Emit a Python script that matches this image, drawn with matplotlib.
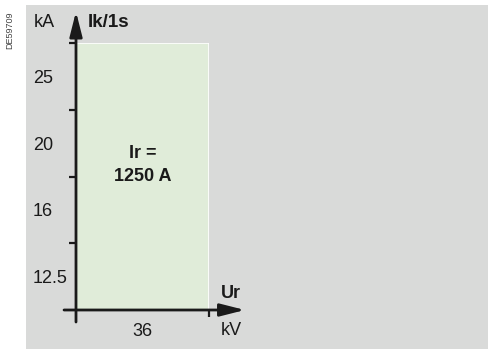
import numpy as np
import matplotlib.pyplot as plt
from matplotlib.patches import Rectangle

plt.rcParams['font.family'] = ['Liberation Sans', 'DejaVu Sans']

# data
voltage = ["36"]                        # Ur, kV
currents = ["12.5", "16", "20", "25"]   # Ik/1s, kA
rated_current = "1250 A"
x_max = len(voltage)      # green zone covers voltage band(s)
y_max = len(currents)     # ... up to the last current band

txt = '#1a1a1a'
grey = '#d9dad9'
green = '#e0ecd9'
fs = 13

fig = plt.figure(figsize=(4.88, 3.49), dpi=100)
fig.patch.set_facecolor('white')

# grey panel behind the drawing
fig.patches.append(Rectangle((26 / 488, 0), 1 - 26 / 488, 1 - 5 / 349,
                             transform=fig.transFigure, facecolor=grey,
                             edgecolor='none', zorder=-10))
fig.text(10 / 488, 1 - 30 / 349, 'DE59709', rotation=90, fontsize=6.5,
         color='#444444', ha='center', va='center')

ax = fig.add_axes([76 / 488, 39 / 349, 133 / 488, 267 / 349])
ax.set_facecolor('none')
ax.set_xlim(0, 1.0)
ax.set_ylim(0, 4.0)
for s in ax.spines.values():
    s.set_visible(False)

# green zone
ax.bar(0, y_max, width=x_max, align='edge', color=green,
       edgecolor='white', linewidth=1.2, zorder=1)

# axes with arrows
arrow = dict(arrowstyle='-|>,head_length=1.5,head_width=0.38',
             color=txt, lw=2.0, shrinkA=0, shrinkB=0)
ax.annotate('', xy=(1.27, 0), xytext=(-0.09, 0), xycoords='data',
            arrowprops=arrow, annotation_clip=False, zorder=4)
ax.annotate('', xy=(0, 4.47), xytext=(0, -0.18), xycoords='data',
            arrowprops=arrow, annotation_clip=False, zorder=4)

# ticks on band edges, labels in band centres
ax.set_yticks(np.arange(1, y_max + 1))
ax.set_yticklabels([])
ax.set_xticks(np.arange(1, x_max + 1))
ax.set_xticklabels([])
ax.tick_params(axis='y', direction='out', length=5, width=1.6, color=txt)
ax.tick_params(axis='x', direction='out', length=5, width=1.6, color=txt)

ax.set_yticks(np.arange(len(currents)) + 0.5, minor=True)
ax.set_yticklabels(currents, minor=True, ha='left')
ax.set_xticks(np.arange(len(voltage)) + 0.5, minor=True)
ax.set_xticklabels(voltage, minor=True)
ax.tick_params(axis='y', which='minor', length=0, pad=31, labelsize=fs,
               labelcolor=txt)
ax.tick_params(axis='x', which='minor', length=0, pad=9, labelsize=fs,
               labelcolor=txt)

# axis titles
ax.text(-0.24, 4.31, 'kA', fontsize=fs, color=txt, ha='center', va='center')
ax.text(0.09, 4.31, 'Ik/1s', fontsize=13.5, fontweight='bold', color=txt,
        ha='left', va='center')
ax.text(1.09, 0.25, 'Ur', fontsize=fs, fontweight='bold', color=txt,
        ha='left', va='center')
ax.text(1.09, -0.30, 'kV', fontsize=fs, color=txt, ha='left', va='center')

ax.text(x_max / 2, 2.17, 'Ir =\n' + rated_current, fontsize=fs,
        fontweight='bold', color=txt, ha='center', va='center',
        linespacing=1.45)

fig.savefig('out.png', dpi=100)
